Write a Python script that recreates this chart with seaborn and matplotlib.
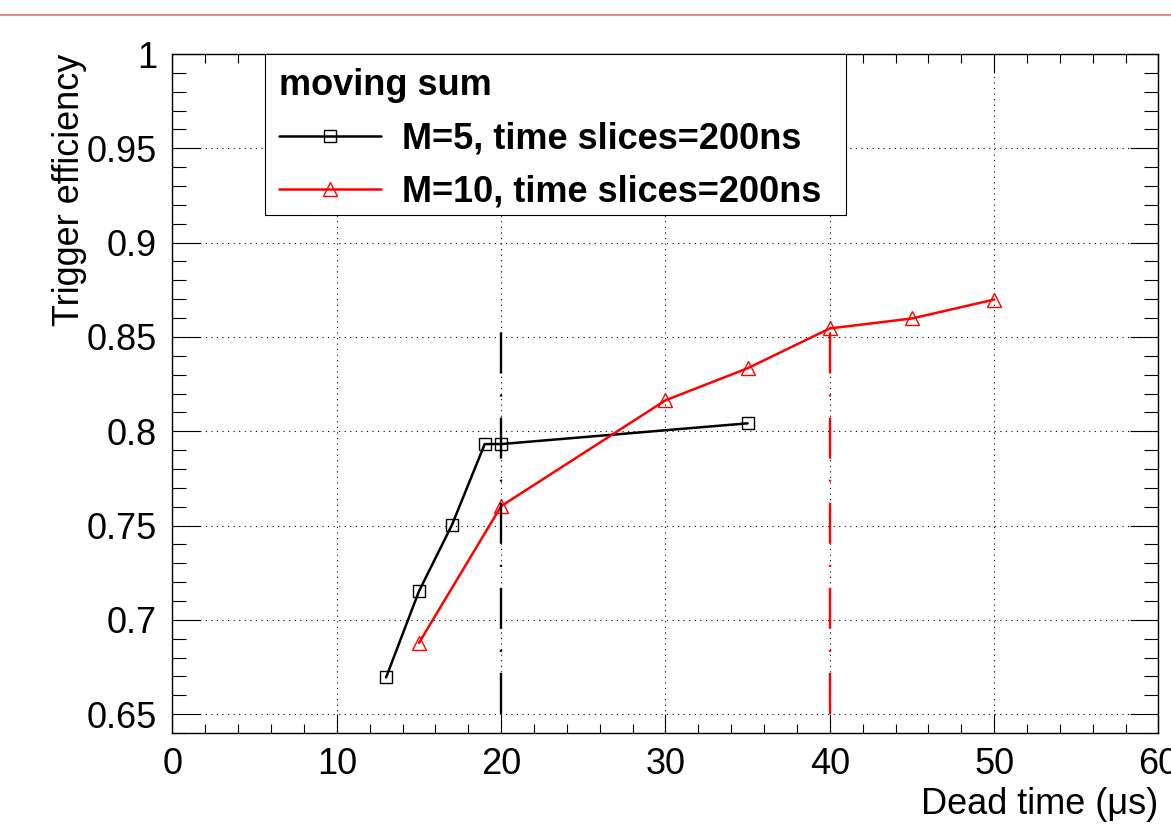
import matplotlib
matplotlib.use('Agg')
import matplotlib.pyplot as plt
from matplotlib.lines import Line2D
from matplotlib.patches import Rectangle
from matplotlib.ticker import MultipleLocator
import seaborn as sns
import pandas as pd

# ---- data
m5_dead_time = [13, 15, 17, 19, 20, 35]
m5_efficiency = [0.6695, 0.7152, 0.7502, 0.7932, 0.7932, 0.8042]

m10_dead_time = [15, 20, 30, 35, 40, 45, 50]
m10_efficiency = [0.6878, 0.7603, 0.8164, 0.8334, 0.8545, 0.8598, 0.8698]

cut_x = [20, 40]
cut_colors = ['black', 'red']
cut_y_low = 0.65
cut_y_high = 0.862

x_ticks = [0, 10, 20, 30, 40, 50, 60]
y_ticks = [0.65, 0.7, 0.75, 0.8, 0.85, 0.9, 0.95, 1.0]
y_tick_labels = ['0.65', '0.7', '0.75', '0.8', '0.85', '0.9', '0.95', '1']

legend_title = 'moving sum'
m5_label = 'M=5, time slices=200ns'
m10_label = 'M=10, time slices=200ns'

df_m5 = pd.DataFrame({'dead_time': m5_dead_time, 'eff': m5_efficiency})
df_m10 = pd.DataFrame({'dead_time': m10_dead_time, 'eff': m10_efficiency})

sns.set_style('ticks')
plt.rcParams['font.family'] = ['Liberation Sans', 'DejaVu Sans']
plt.rcParams['font.size'] = 26
for k in ['text.color', 'axes.labelcolor', 'xtick.color', 'ytick.color',
          'axes.edgecolor']:
    plt.rcParams[k] = 'black'

fig = plt.figure(figsize=(11.71, 8.31), dpi=100)
ax = fig.add_axes([0.1473, 0.1179, 0.842, 0.8171])

# thin red rule across the top of the page
fig.add_artist(Line2D([0, 1], [0.9825, 0.9825], transform=fig.transFigure,
                      color='#e57373', lw=1.2))

sns.lineplot(data=df_m5, x='dead_time', y='eff', ax=ax, color='black', lw=1.8,
             marker='s', markersize=8.5, markerfacecolor='none',
             markeredgecolor='black', markeredgewidth=1.0, label=m5_label,
             sort=False, zorder=3)
sns.lineplot(data=df_m10, x='dead_time', y='eff', ax=ax, color='red', lw=1.8,
             marker='^', markersize=10, markerfacecolor='none',
             markeredgecolor='red', markeredgewidth=1.0, label=m10_label,
             sort=False, zorder=3)

# dash-dot cut lines, drawn from the bottom up
for xv, c in zip(cut_x, cut_colors):
    ax.vlines(xv, cut_y_low, cut_y_high, colors=c, lw=1.7,
              linestyles=[(0, (17.4, 8.9, 0.85, 8.9))], zorder=4)

ax.set_xlim(0, 60)
ax.set_ylim(0.64, 1.0)
ax.set_xticks(x_ticks)
ax.set_xticklabels([str(v) for v in x_ticks])
ax.set_yticks(y_ticks)
ax.set_yticklabels(y_tick_labels)
ax.xaxis.set_minor_locator(MultipleLocator(2))
ax.yaxis.set_minor_locator(MultipleLocator(0.01))

ax.tick_params(axis='both', which='both', direction='in', top=True, right=True,
               color='black', width=0.8, labelsize=26)
ax.tick_params(axis='x', which='major', length=13.7, pad=10)
ax.tick_params(axis='x', which='minor', length=6.8)
ax.tick_params(axis='y', which='major', length=20, pad=11)
ax.tick_params(axis='y', which='minor', length=10)

ax.grid(which='major', color='black', lw=0.8, linestyle=(0, (1, 4)))
for sp in ax.spines.values():
    sp.set_linewidth(1.0)

ax.set_xlabel('Dead time (μs)', fontsize=26)
ax.xaxis.set_label_coords(1.0, -0.08)
ax.xaxis.label.set_ha('right')
ax.set_ylabel('Trigger efficiency', fontsize=26)
ax.yaxis.set_label_coords(-0.087, 1.0)
ax.yaxis.label.set_ha('right')

# legend box (white, square corners) covering ticks and grid
ax.add_patch(Rectangle((0.0938, 0.7629), 0.5893, 0.2371, transform=ax.transAxes,
                       facecolor='white', edgecolor='black', lw=0.8,
                       zorder=4.5, clip_on=False))
leg = ax.legend(title=legend_title, loc='upper left',
                bbox_to_anchor=(0.0938, 1.0), borderaxespad=0,
                frameon=False, handlelength=2.8, handletextpad=0.6,
                borderpad=0.4, labelspacing=0.5, alignment='left',
                prop={'weight': 'bold', 'size': 26},
                title_fontproperties={'weight': 'bold', 'size': 26})
leg.set_zorder(5)

fig.savefig('out.png', dpi=100)
